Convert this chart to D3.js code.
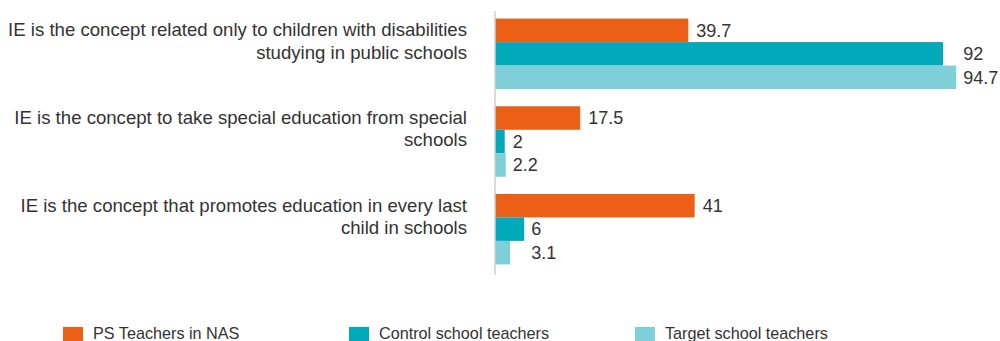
<!DOCTYPE html>
<html>
<head>
<meta charset="utf-8">
<script src="https://cdn.jsdelivr.net/npm/d3@7"></script>
<style>
  html, body { margin: 0; padding: 0; background: #fff; }
  svg { display: block; font-family: "Liberation Sans", Arial, sans-serif; }
</style>
</head>
<body>
<svg id="chart" width="1000" height="341"></svg>
<script>
// Statements about inclusive education (IE), each split into two display lines
const categories = [
  "IE is the concept related only to children with disabilities studying in public schools",
  "IE is the concept to take special education from special schools",
  "IE is the concept that promotes education in every last child in schools"
];
const categoryLines = [
  ["IE is the concept related only to children with disabilities", "studying in public schools"],
  ["IE is the concept to take special education from special", "schools"],
  ["IE is the concept that promotes education in every last", "child in schools"]
];
const seriesNames = ["PS Teachers in NAS", "Control school teachers", "Target school teachers"];
const psTeachersNAS = [39.7, 17.5, 41];
const controlTeachers = [92, 2, 6];
const targetTeachers = [94.7, 2.2, 3.1];
const seriesColors = ["#EB5F16", "#00AABB", "#7ECFD8"];

const seriesValues = [psTeachersNAS, controlTeachers, targetTeachers];

const svg = d3.select("#chart");
const textColor = "#333333";

const x = d3.scaleLinear().domain([0, 100]).range([495, 982]);
const y0 = d3.scaleBand().domain(categories).range([10, 273]).paddingInner(0.196).paddingOuter(0.098);
const y1 = d3.scaleBand().domain(seriesNames).range([0, y0.bandwidth()]);

const rowsFor = i => seriesNames.map((s, j) => ({ s, j, v: seriesValues[j][i], i }));

// Bars, one group per statement
const groups = svg.append("g").selectAll("g")
  .data(categories)
  .join("g")
  .attr("transform", d => `translate(0,${y0(d)})`);

groups.selectAll("rect")
  .data((d, i) => rowsFor(i))
  .join("rect")
  .attr("x", x(0))
  .attr("y", d => y1(d.s))
  .attr("width", d => x(d.v) - x(0))
  .attr("height", y1.bandwidth())
  .attr("fill", d => seriesColors[d.j]);

// Value labels: the two school-teacher series share a column past the longer of their bars
const labelX = d => {
  if (d.j === 0) return x(d.v) + 8;
  return x(Math.max(controlTeachers[d.i], targetTeachers[d.i])) + 7;
};

groups.selectAll("text.value")
  .data((d, i) => rowsFor(i))
  .join("text")
  .attr("class", "value")
  .attr("x", labelX)
  .attr("y", d => y1(d.s) + y1.bandwidth() / 2)
  .attr("dy", "0.35em")
  .attr("font-size", 18)
  .attr("fill", textColor)
  .text(d => d.v);

// Vertical baseline axis
svg.append("line")
  .attr("x1", x(0)).attr("x2", x(0))
  .attr("y1", 11).attr("y2", 275)
  .attr("stroke", "#cfcfcf")
  .attr("stroke-width", 1.5);

// Category labels, right aligned against the axis
groups.append("text")
  .attr("text-anchor", "end")
  .attr("font-size", 18.6)
  .attr("fill", textColor)
  .selectAll("tspan")
  .data((d, i) => categoryLines[i])
  .join("tspan")
  .attr("x", 467)
  .attr("y", (d, k) => 17.7 + k * 22.5)
  .text(d => d);

// Legend
const legend = svg.append("g").selectAll("g")
  .data(seriesNames)
  .join("g")
  .attr("transform", (d, i) => `translate(${63 + i * 286},0)`);

legend.append("rect")
  .attr("x", 0).attr("y", 327)
  .attr("width", 20).attr("height", 14)
  .attr("fill", (d, i) => seriesColors[i]);

legend.append("text")
  .attr("x", 30).attr("y", 338.5)
  .attr("font-size", 16.2)
  .attr("fill", textColor)
  .text(d => d);
</script>
</body>
</html>
